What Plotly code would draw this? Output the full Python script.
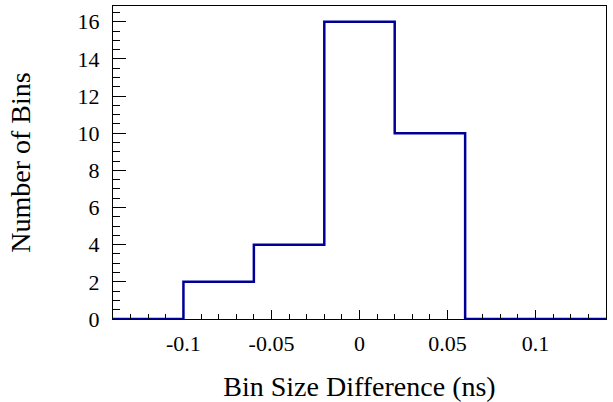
import plotly.graph_objects as go

# Histogram data: bin edges and counts
bin_edges = [-0.14, -0.10, -0.06, -0.02, 0.02, 0.06, 0.10, 0.14]
bin_counts = [0, 2, 4, 16, 10, 0, 0]

x_tick_vals = [-0.1, -0.05, 0, 0.05, 0.1]
x_tick_text = ["-0.1", "-0.05", "0", "0.05", "0.1"]
y_tick_vals = [0, 2, 4, 6, 8, 10, 12, 14, 16]

x_title = "Bin Size Difference (ns)"
y_title = "Number of Bins"

font_family = "Liberation Serif, Times New Roman, serif"

fig = go.Figure()
fig.add_trace(go.Scatter(
    x=bin_edges,
    y=bin_counts + [bin_counts[-1]],
    mode="lines",
    line=dict(shape="hv", color="#000099", width=2.5),
    hoverinfo="skip",
    showlegend=False,
))

fig.update_layout(
    template="none",
    width=613, height=402,
    margin=dict(l=113, r=7, t=6, b=83, autoexpand=False),
    paper_bgcolor="white", plot_bgcolor="white",
    font=dict(family=font_family, color="black", size=22),
)

fig.update_xaxes(
    automargin=False,
    range=[-0.14, 0.14],
    showgrid=False, zeroline=False,
    showline=True, linecolor="black", linewidth=1, mirror=True,
    ticks="inside", ticklen=9, tickwidth=1, tickcolor="black",
    tickvals=x_tick_vals, ticktext=x_tick_text,
    tickfont=dict(size=22, family=font_family),
    ticklabelstandoff=5,
    minor=dict(ticks="inside", ticklen=5, tickwidth=1, tickcolor="black", dtick=0.01, tick0=0, showgrid=False),
    title=dict(text=x_title, font=dict(size=28, family=font_family), standoff=23),
)
fig.update_yaxes(
    automargin=False,
    range=[0, 16.85],
    showgrid=False, zeroline=False,
    showline=True, linecolor="black", linewidth=1, mirror=True,
    ticks="inside", ticklen=13, tickwidth=1, tickcolor="black",
    tickvals=y_tick_vals,
    tickfont=dict(size=22, family=font_family),
    ticklabelstandoff=8,
    minor=dict(ticks="inside", ticklen=7, tickwidth=1, tickcolor="black", dtick=0.5, tick0=0, showgrid=False),
    title=dict(text=y_title, font=dict(size=28, family=font_family), standoff=38),
)

fig.write_html(
    "out.html",
    config={"displayModeBar": False},
    post_script="document.body.style.margin='0';",
)
